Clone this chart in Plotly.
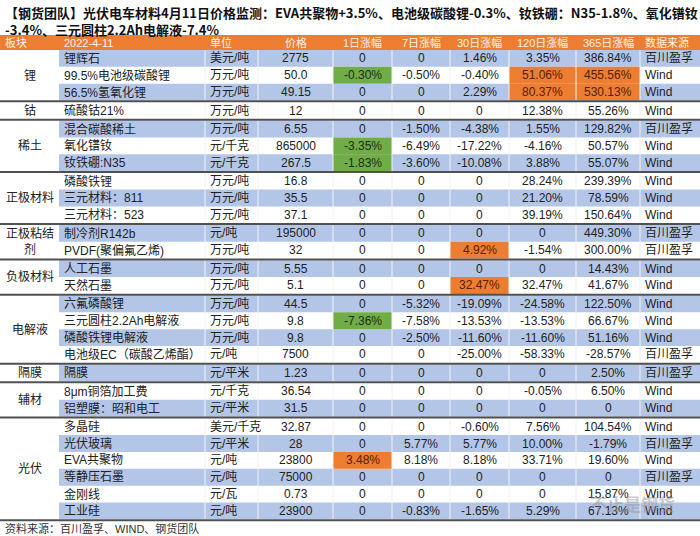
import plotly.graph_objects as go

# ---------------- data ----------------
title_line1 = "【钢货团队】光伏电车材料4月11日价格监测：EVA共聚物+3.5%、电池级碳酸锂-0.3%、钕铁硼：N35-1.8%、氧化镨钕"
title_line2 = "-3.4%、三元圆柱2.2Ah电解液-7.4%"
footer_text = "资料来源：百川盈孚、WIND、钢货团队"
watermark_text = "不止是钢货"

header = ["板块", "2022-4-11", "单位", "价格", "1日涨幅", "7日涨幅", "30日涨幅", "120日涨幅", "365日涨幅", "数据来源"]

sector_labels = ["锂", "钴", "稀土", "正极材料", "正极粘结<br>剂", "负极材料", "电解液", "隔膜", "辅材", "光伏"]
sector_sizes = [3, 1, 3, 3, 2, 2, 4, 1, 2, 6]

products = ["锂辉石", "99.5%电池级碳酸锂", "56.5%氢氧化锂", "硫酸钴21%", "混合碳酸稀土", "氧化镨钕",
            "钕铁硼:N35", "磷酸铁锂", "三元材料：811", "三元材料：523", "制冷剂R142b",
            "PVDF(聚偏氟乙烯)", "人工石墨", "天然石墨", "六氟磷酸锂", "三元圆柱2.2Ah电解液",
            "磷酸铁锂电解液", "电池级EC（碳酸乙烯酯）", "隔膜", "8μm铜箔加工费", "铝塑膜：昭和电工",
            "多晶硅", "光伏玻璃", "EVA共聚物", "等静压石墨", "金刚线", "工业硅"]
units = ["美元/吨", "万元/吨", "万元/吨", "万元/吨", "万元/吨", "元/千克", "元/千克", "万元/吨", "万元/吨",
         "万元/吨", "元/吨", "万元/吨", "万元/吨", "万元/吨", "万元/吨", "万元/吨", "万元/吨", "元/吨",
         "元/平米", "元/千克", "元/平米", "美元/千克", "元/平米", "元/吨", "元/吨", "元/瓦", "元/吨"]
prices = ["2775", "50.0", "49.15", "12", "6.55", "865000", "267.5", "16.8", "35.5", "37.1", "195000",
          "32", "5.55", "5.1", "44.5", "9.8", "9.8", "7500", "1.23", "36.54", "31.5", "32.87", "28",
          "23800", "75000", "0.73", "23900"]
chg_1d = [0, -0.30, 0, 0, 0, -3.35, -1.83, 0, 0, 0, 0, 0, 0, 0, 0, -7.36, 0, 0, 0, 0, 0, 0, 0, 3.48, 0, 0, 0]
chg_7d = [0, -0.50, 0, 0, -1.50, -6.49, -3.60, 0, 0, 0, 0, 0, 0, 0, -5.32, -7.58, -2.50, 0, 0, 0, 0, 0,
          5.77, 8.18, 0, 0, -0.83]
chg_30d = [1.46, -0.40, 2.29, 0, -4.38, -17.22, -10.08, 0, 0, 0, 0, 4.92, 0, 32.47, -19.09, -13.53,
           -11.60, -25.00, 0, 0, 0, -0.60, 5.77, 8.18, 0, 0, -1.65]
chg_120d = [3.35, 51.06, 80.37, 12.38, 1.55, -4.16, 3.88, 28.24, 21.20, 39.19, 0, -1.54, 0, 32.47,
            -24.58, -13.53, -11.60, -58.33, 0, -0.05, 0, 7.56, 10.00, 33.71, 0, 0, 5.29]
chg_365d = [386.84, 455.56, 530.13, 55.26, 129.82, 50.57, 55.07, 239.39, 78.59, 150.64, 449.30, 300.00,
            14.43, 41.67, 122.50, 66.67, 51.16, -28.57, 2.50, 6.50, 0, 104.54, -1.79, 19.60, 0, 15.87, 67.13]
sources = ["百川盈孚", "Wind", "Wind", "Wind", "百川盈孚", "Wind", "Wind", "Wind", "Wind", "Wind",
           "百川盈孚", "百川盈孚", "Wind", "Wind", "Wind", "Wind", "Wind", "百川盈孚", "百川盈孚", "Wind",
           "Wind", "Wind", "百川盈孚", "Wind", "百川盈孚", "Wind", "Wind"]
# highlighted cells: (row index, change column index 0..4)
highlights = [(1, 0), (5, 0), (6, 0), (15, 0), (23, 0), (11, 2), (13, 2), (1, 3), (2, 3), (1, 4), (2, 4)]

# ---------------- style / layout ----------------
W, H = 700, 536
col_edges = [0, 59, 205, 258, 333, 392, 450, 509, 576, 640, 700]
head_align = ["left", "left", "left", "center", "center", "center", "center", "center", "center", "left"]
body_align = ["center", "left", "left", "center", "center", "center", "center", "center", "center", "left"]
PAD = 3
TABLE_TOP = 50
HEAD_TOP = 35
ROW_H = 16.85
SEP_GAP = 1.6
BLUE = "#B4C6E7"
ORANGE = "#ED7D31"
GREEN = "#70AD47"
SEP_COLOR = "#505050"
FONT = "Arial, 'Liberation Sans', 'Noto Sans CJK SC', sans-serif"
CJK = "'Noto Sans CJK SC', 'Microsoft YaHei', sans-serif"


def fmt_pct(v):
    return "0" if v == 0 else f"{v:.2f}%"


change_cols = [chg_1d, chg_7d, chg_30d, chg_120d, chg_365d]
n_rows = len(products)

# row geometry derived from the sector sizes
row_top = []
sep_lines = []
group_centers = []
y = TABLE_TOP
for size in sector_sizes:
    g_start = y
    for _ in range(size):
        row_top.append(y)
        y += ROW_H
    group_centers.append((g_start + y) / 2)
    sep_lines.append(y + SEP_GAP / 2)
    y += SEP_GAP

shapes = []
annotations = []


def text_x(ci, align):
    if align == "left":
        return col_edges[ci] + PAD
    return (col_edges[ci] + col_edges[ci + 1]) / 2


# header
shapes.append(dict(type="rect", xref="x", yref="y", x0=0, x1=W, y0=HEAD_TOP, y1=TABLE_TOP,
                   fillcolor=ORANGE, line=dict(width=0), layer="below"))
for ci, h in enumerate(header):
    annotations.append(dict(x=text_x(ci, head_align[ci]), y=(HEAD_TOP + TABLE_TOP) / 2, text=h,
                            xanchor="left" if head_align[ci] == "left" else "center", yanchor="middle",
                            showarrow=False, font=dict(family=FONT, size=11, color="#FFF4EC")))

# row bands
for r in range(n_rows):
    if r % 2 == 0:
        shapes.append(dict(type="rect", xref="x", yref="y", x0=col_edges[1], x1=W,
                           y0=row_top[r], y1=row_top[r] + ROW_H, fillcolor=BLUE,
                           line=dict(width=0), layer="below"))

# highlighted cells
hl_set = set(highlights)
for (r, k) in highlights:
    v = change_cols[k][r]
    ci = 4 + k
    shapes.append(dict(type="rect", xref="x", yref="y", x0=col_edges[ci], x1=col_edges[ci + 1],
                       y0=row_top[r], y1=row_top[r] + ROW_H,
                       fillcolor=GREEN if v < 0 else ORANGE, line=dict(width=0), layer="below"))

# faint vertical cell borders
for ci in range(2, len(col_edges) - 1):
    shapes.append(dict(type="line", xref="x", yref="y", x0=col_edges[ci], x1=col_edges[ci],
                       y0=TABLE_TOP, y1=sep_lines[-1], line=dict(color="#F2F2F2", width=1), layer="below"))

# group separators
for s in sep_lines:
    shapes.append(dict(type="line", xref="x", yref="y", x0=0, x1=W, y0=s, y1=s,
                       line=dict(color=SEP_COLOR, width=2)))

# group labels
for lab, yc in zip(sector_labels, group_centers):
    annotations.append(dict(x=text_x(0, "center"), y=yc, text=lab, xanchor="center", yanchor="middle",
                            showarrow=False, font=dict(family=FONT, size=12, color="#222222")))

# body cells
for r in range(n_rows):
    yc = row_top[r] + ROW_H / 2
    cells = [products[r], units[r], prices[r]] + [fmt_pct(c[r]) for c in change_cols] + [sources[r]]
    for j, txt in enumerate(cells):
        ci = j + 1
        color = "#222222"
        if 3 <= j <= 7 and (r, j - 3) in hl_set:
            color = "#1E2E12" if change_cols[j - 3][r] < 0 else "#5A2000"
        al = body_align[ci]
        annotations.append(dict(x=text_x(ci, al), y=yc, text=txt,
                                xanchor="left" if al == "left" else "center", yanchor="middle",
                                showarrow=False, font=dict(family=FONT, size=12, color=color)))

# title and footer
annotations.append(dict(x=3, y=12, text="<b>" + title_line1 + "</b>", xanchor="left", yanchor="middle",
                        showarrow=False, font=dict(family=CJK, size=13, color="#111111")))
annotations.append(dict(x=3, y=29, text="<b>" + title_line2 + "</b>", xanchor="left", yanchor="middle",
                        showarrow=False, font=dict(family=CJK, size=13, color="#111111")))
annotations.append(dict(x=3, y=528, text=footer_text, xanchor="left", yanchor="middle",
                        showarrow=False, font=dict(family=FONT, size=11, color="#333333")))
annotations.append(dict(x=632, y=503, text="<b>" + watermark_text + "</b>", xanchor="center", yanchor="middle",
                        showarrow=False, font=dict(family=CJK, size=17, color="rgba(150,150,150,0.5)")))

fig = go.Figure(go.Scatter(x=[0, W], y=[0, H], mode="markers", marker=dict(opacity=0), hoverinfo="skip",
                           showlegend=False))
fig.update_layout(width=W, height=H, margin=dict(l=0, r=0, t=0, b=0),
                  paper_bgcolor="white", plot_bgcolor="white",
                  xaxis=dict(range=[0, W], visible=False, fixedrange=True),
                  yaxis=dict(range=[H, 0], visible=False, fixedrange=True),
                  shapes=shapes, annotations=annotations, showlegend=False)
fig.write_html("out.html", config={"displayModeBar": False},
               post_script="document.body.style.margin='0';document.body.style.overflow='hidden';")
